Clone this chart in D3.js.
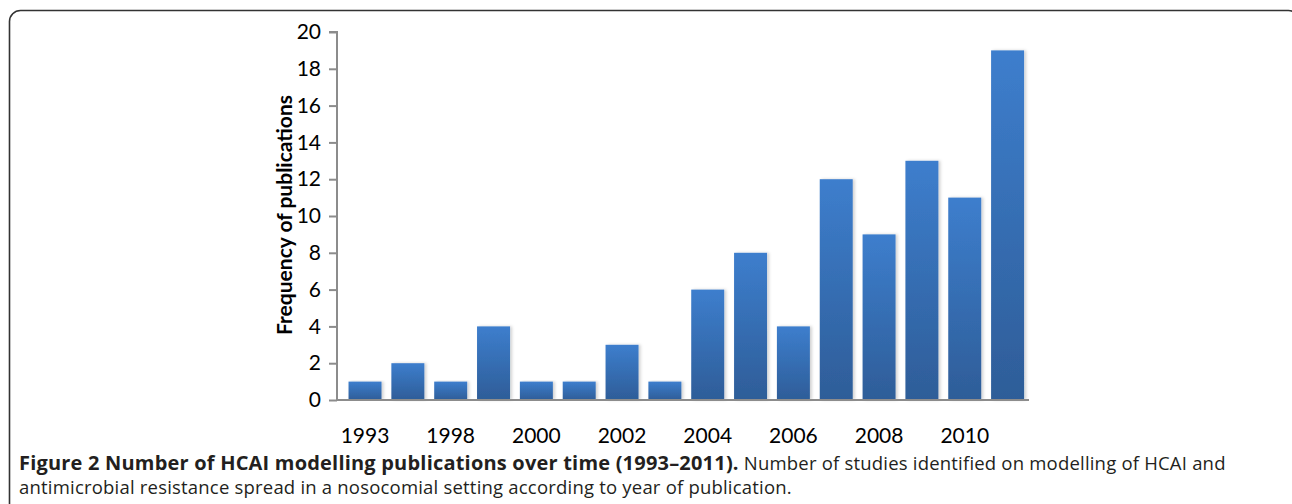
<!DOCTYPE html>
<html>
<head>
<meta charset="utf-8">
<script src="https://cdn.jsdelivr.net/npm/d3@7"></script>
<style>
  body { margin: 0; background: #fff; }
  svg { display: block; }
</style>
</head>
<body>
<svg></svg>
<script>
const years = ["1993", "1997", "1998", "1999", "2000", "2001", "2002", "2003",
  "2004", "2005", "2006", "2007", "2008", "2009", "2010", "2011"];
const counts = [1, 2, 1, 4, 1, 1, 3, 1, 6, 8, 4, 12, 9, 13, 11, 19];
const shownYears = ["1993", "1998", "2000", "2002", "2004", "2006", "2008", "2010"];
const yTicks = [0, 2, 4, 6, 8, 10, 12, 14, 16, 18, 20];

const width = 1292;
const height = 504;
const axisLeft = 337;
const chartFont = "Lato, 'Liberation Sans', sans-serif";

const svg = d3.select("svg").attr("width", width).attr("height", height);

// rounded frame round the figure
svg.append("rect")
  .attr("x", 9.5).attr("y", 10.5)
  .attr("width", 1290).attr("height", 540)
  .attr("rx", 11)
  .attr("fill", "none")
  .attr("stroke", "#333")
  .attr("stroke-width", 1.6);

const defs = svg.append("defs");
const grad = defs.append("linearGradient")
  .attr("id", "barGrad")
  .attr("x1", 0).attr("y1", 0).attr("x2", 0).attr("y2", 1);
grad.append("stop").attr("offset", "0%").attr("stop-color", "#3d7ecd");
grad.append("stop").attr("offset", "100%").attr("stop-color", "#2e5d98");

const shadow = defs.append("filter").attr("id", "shadow")
  .attr("x", "-20%").attr("y", "-5%").attr("width", "140%").attr("height", "110%");
shadow.append("feDropShadow")
  .attr("dx", 2).attr("dy", 0).attr("stdDeviation", 1.5)
  .attr("flood-color", "#000").attr("flood-opacity", 0.18);

const xScale = d3.scaleBand()
  .domain(years)
  .range([343.6, 1029])
  .paddingInner(0.23)
  .paddingOuter(0.115);

const yScale = d3.scaleLinear()
  .domain([0, 20])
  .range([400, 32]);

// bars
svg.selectAll(".bar")
  .data(years)
  .enter()
  .append("rect")
  .attr("class", "bar")
  .attr("x", (d) => xScale(d))
  .attr("y", (d, i) => yScale(counts[i]))
  .attr("width", xScale.bandwidth())
  .attr("height", (d, i) => yScale(0) - yScale(counts[i]))
  .attr("fill", "url(#barGrad)")
  .attr("filter", "url(#shadow)");

// y axis
const yAxis = d3.axisLeft(yScale)
  .tickValues(yTicks)
  .tickSize(8)
  .tickPadding(8)
  .tickFormat(d3.format("d"));

const gy = svg.append("g")
  .attr("transform", `translate(${axisLeft}, 0)`)
  .call(yAxis);
gy.select(".domain").attr("stroke", "#8c8c8c").attr("stroke-width", 2)
  .attr("d", `M-8,${yScale(20)}H0V${yScale(0)}`);
gy.selectAll(".tick line").attr("stroke", "#8c8c8c").attr("stroke-width", 2);
gy.selectAll(".tick text")
  .attr("fill", "#000")
  .style("font-family", chartFont)
  .style("font-size", "21px");

// x axis (only every other year labelled)
const xAxis = d3.axisBottom(xScale)
  .tickValues(shownYears)
  .tickSize(0)
  .tickPadding(28);

const gx = svg.append("g")
  .attr("transform", `translate(0, ${yScale(0)})`)
  .call(xAxis);
gx.select(".domain").attr("stroke", "#8c8c8c").attr("stroke-width", 2)
  .attr("d", `M${axisLeft},0H1029`);
gx.selectAll(".tick text")
  .attr("fill", "#000")
  .style("font-family", chartFont)
  .style("font-size", "21px");

// y axis label
svg.append("text")
  .attr("transform", "rotate(-90)")
  .attr("x", -215)
  .attr("y", 292)
  .attr("text-anchor", "middle")
  .text("Frequency of publications")
  .style("font-family", chartFont)
  .style("font-weight", "bold")
  .style("font-size", "21px")
  .style("fill", "#000");

// caption
const caption = svg.append("text")
  .style("font-family", "'Open Sans', sans-serif")
  .style("font-size", "18.5px")
  .style("letter-spacing", "0.2px")
  .style("fill", "#231f20");

const line1 = caption.append("tspan").attr("x", 19).attr("y", 470);
line1.append("tspan")
  .style("font-weight", "bold")
  .style("font-size", "20px")
  .text("Figure 2 Number of HCAI modelling publications over time (1993\u20132011).");
line1.append("tspan")
  .text(" Number of studies identified on modelling of HCAI and");

caption.append("tspan")
  .attr("x", 19).attr("y", 494)
  .text("antimicrobial resistance spread in a nosocomial setting according to year of publication.");
</script>
</body>
</html>
